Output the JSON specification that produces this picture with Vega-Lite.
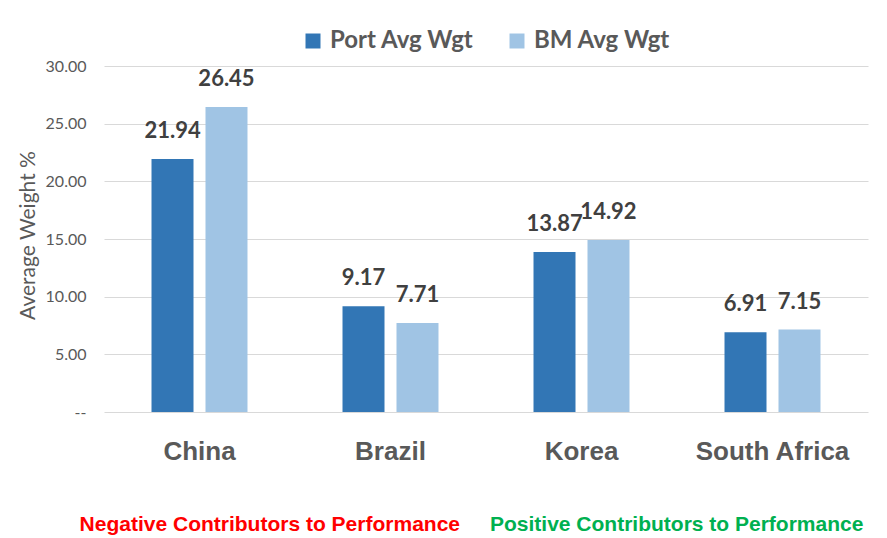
{
  "$schema": "https://vega.github.io/schema/vega-lite/v6.json",
  "width": 764,
  "height": 346,
  "autosize": "none",
  "padding": {"left": 104, "top": 66, "right": 19, "bottom": 126},
  "background": "white",
  "config": {"view": {"stroke": null}},
  "datasets": {
    "bars": [
      {"country": "China", "series": "Port Avg Wgt", "value": 21.94},
      {"country": "China", "series": "BM Avg Wgt", "value": 26.45},
      {"country": "Brazil", "series": "Port Avg Wgt", "value": 9.17},
      {"country": "Brazil", "series": "BM Avg Wgt", "value": 7.71},
      {"country": "Korea", "series": "Port Avg Wgt", "value": 13.87},
      {"country": "Korea", "series": "BM Avg Wgt", "value": 14.92},
      {"country": "South Africa", "series": "Port Avg Wgt", "value": 6.91},
      {"country": "South Africa", "series": "BM Avg Wgt", "value": 7.15}
    ]
  },
  "layer": [
    {
      "data": {"name": "bars"},
      "mark": {"type": "bar"},
      "encoding": {
        "x": {
          "field": "country", "type": "nominal", "sort": null,
          "scale": {"domain": ["China", "Brazil", "Korea", "South Africa"], "paddingInner": 0, "paddingOuter": 0},
          "axis": {"title": null, "labelAngle": 0, "ticks": false, "domain": false, "labelFont": "Liberation Sans", "labelFontWeight": "bold", "labelFontSize": 26, "labelColor": "#595959", "labelPadding": 26}
        },
        "xOffset": {"field": "series", "type": "nominal", "sort": null, "scale": {"domain": ["Port Avg Wgt", "BM Avg Wgt"], "paddingInner": 0.222, "paddingOuter": 0.88}},
        "y": {
          "field": "value", "type": "quantitative",
          "scale": {"domain": [0, 30], "nice": false},
          "axis": {"title": "Average Weight %", "values": [0, 5, 10, 15, 20, 25, 30], "labelExpr": "datum.value == 0 ? '--' : format(datum.value, '.2f')", "domain": false, "ticks": false, "gridColor": "#d9d9d9", "gridWidth": 1.2, "labelFont": "Lato", "labelFontSize": 16, "labelColor": "#595959", "labelPadding": 18, "titleFont": "Lato", "titleFontWeight": "normal", "titleFontSize": 21, "titleColor": "#595959", "titleX": -76, "titleY": 169, "titleBaseline": "middle"}
        },
        "color": {
          "field": "series", "type": "nominal", "sort": null,
          "scale": {"domain": ["Port Avg Wgt", "BM Avg Wgt"], "range": ["#3276B5", "#A0C4E4"]},
          "legend": {"title": null, "orient": "none", "direction": "horizontal", "legendX": 197, "legendY": -37, "symbolType": "square", "symbolSize": 225, "symbolStrokeWidth": 0, "labelFont": "Lato", "labelFontWeight": "bold", "labelFontSize": 24, "labelColor": "#595959", "labelOffset": 5, "columnPadding": 31, "labelLimit": 300}
        }
      }
    },
    {
      "data": {"name": "bars"},
      "mark": {"type": "text", "baseline": "bottom", "dy": -16, "font": "Lato", "fontWeight": "bold", "fontSize": 22, "color": "#404040"},
      "encoding": {
        "x": {"field": "country", "type": "nominal", "sort": null},
        "xOffset": {"field": "series", "type": "nominal", "sort": null},
        "y": {"field": "value", "type": "quantitative"},
        "text": {"field": "value", "type": "quantitative", "format": ".2f"}
      }
    },
    {
      "data": {"values": [{"anchor": "Brazil", "label": "Negative Contributors to Performance"}]},
      "mark": {"type": "text", "align": "right", "baseline": "middle", "dx": -26, "dy": 113, "font": "Liberation Sans", "fontWeight": "bold", "fontSize": 21, "color": "#FF0000"},
      "encoding": {
        "x": {"field": "anchor", "type": "nominal", "sort": null, "bandPosition": 1},
        "y": {"datum": 0},
        "text": {"field": "label"}
      }
    },
    {
      "data": {"values": [{"anchor": "Korea", "label": "Positive Contributors to Performance"}]},
      "mark": {"type": "text", "align": "left", "baseline": "middle", "dx": 4, "dy": 113, "font": "Liberation Sans", "fontWeight": "bold", "fontSize": 21, "color": "#00B050"},
      "encoding": {
        "x": {"field": "anchor", "type": "nominal", "sort": null, "bandPosition": 0},
        "y": {"datum": 0},
        "text": {"field": "label"}
      }
    }
  ]
}
